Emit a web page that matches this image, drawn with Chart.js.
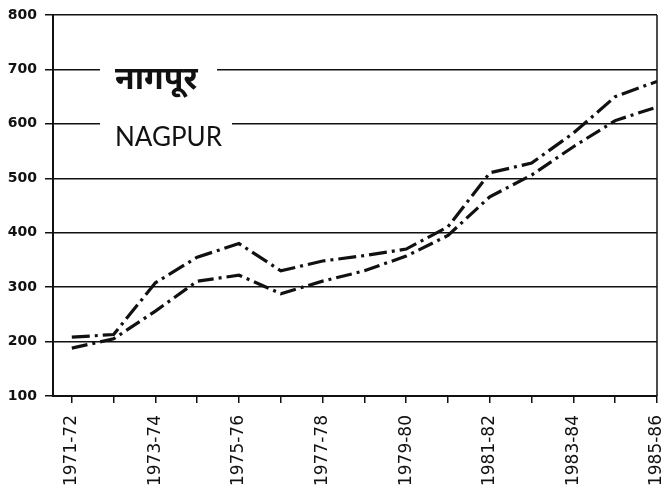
<!DOCTYPE html>
<html>
<head>
<meta charset="utf-8">
<script src="https://cdn.jsdelivr.net/npm/chart.js@4/dist/chart.umd.min.js"></script>
<style>
  html, body { margin: 0; padding: 0; background: #fff; }
  #wrap { width: 662px; height: 492px; }
</style>
</head>
<body>
<div id="wrap"><canvas id="nagpurChart" width="662" height="492"></canvas></div>
<script>
const years = ["1971-72","1972-73","1973-74","1974-75","1975-76","1976-77","1977-78","1978-79",
  "1979-80","1980-81","1981-82","1982-83","1983-84","1984-85","1985-86"];
const upperSeries = [208, 213, 308, 355, 380, 330, 348, 358, 370, 411, 510, 528, 583, 650, 678];
const lowerSeries = [188, 205, 256, 311, 322, 288, 311, 330, 357, 395, 466, 506, 558, 606, 631];
const yTicks = [100, 200, 300, 400, 500, 600, 700, 800];
const titleHindi = "नागपूर";
const titleEnglish = "NAGPUR";

const toPoints = arr => arr.map((v, i) => ({x: i, y: v}));

// white patches behind the place name, then the text itself
const labelPlugin = {
  id: "placeLabel",
  beforeDatasetsDraw(chart) {
    const {ctx, scales: {y}, chartArea} = chart;
    const left = chartArea.left + 62;
    ctx.save();
    ctx.fillStyle = "#fff";
    ctx.fillRect(chartArea.left + 47, y.getPixelForValue(700) - 4, 117, 8);
    ctx.fillRect(chartArea.left + 47, y.getPixelForValue(600) - 4, 132, 8);
    ctx.fillStyle = "#111";
    ctx.textBaseline = "alphabetic";
    ctx.font = "bold 32px 'Noto Sans', sans-serif";
    ctx.fillText(titleHindi, left, y.getPixelForValue(700) + 20);
    ctx.font = "26px Lato, sans-serif";
    ctx.fillText(titleEnglish, left, y.getPixelForValue(600) + 22);
    // right frame
    ctx.strokeStyle = "#111";
    ctx.lineWidth = 1.5;
    ctx.beginPath();
    ctx.moveTo(chartArea.right, chartArea.top);
    ctx.lineTo(chartArea.right, chartArea.bottom);
    ctx.stroke();
    ctx.restore();
  }
};

new Chart(document.getElementById("nagpurChart"), {
  type: "line",
  data: {
    datasets: [{
      data: toPoints(upperSeries),
      borderColor: "#111",
      borderWidth: 3.2,
      borderDash: [18, 5, 3, 5],
      pointRadius: 0,
      tension: 0,
      fill: false
    }, {
      data: toPoints(lowerSeries),
      borderColor: "#111",
      borderWidth: 3.2,
      borderDash: [16, 5, 3, 5],
      pointRadius: 0,
      tension: 0,
      fill: false
    }]
  },
  options: {
    responsive: false,
    animation: false,
    layout: { padding: { top: 15, right: 5, left: 0, bottom: 0 } },
    plugins: { legend: { display: false }, tooltip: { enabled: false } },
    scales: {
      x: {
        type: "linear",
        min: -0.45,
        max: years.length - 1,
        afterBuildTicks: s => { s.ticks = years.map((_, i) => ({value: i})); },
        afterFit: s => { s.height = 96; s.paddingLeft = 0; s.paddingRight = 0; },
        grid: { drawOnChartArea: false, color: "#111", tickLength: 7, lineWidth: 1.5 },
        border: { color: "#111", width: 2 },
        ticks: {
          autoSkip: false,
          minRotation: 90,
          maxRotation: 90,
          padding: 12,
          color: "#111",
          font: { family: "'DejaVu Sans'", size: 17 },
          callback: v => (v % 2 === 0 ? years[v] : "")
        }
      },
      y: {
        min: 100,
        max: 800,
        afterBuildTicks: s => { s.ticks = yTicks.map(v => ({value: v})); },
        afterFit: s => { s.width = 53; s.paddingTop = 0; s.paddingBottom = 0; },
        grid: { color: "#111", lineWidth: 1.5, tickLength: 8 },
        border: { color: "#111", width: 2 },
        ticks: {
          padding: 8,
          color: "#111",
          font: { family: "'DejaVu Sans'", size: 14, weight: "bold" }
        }
      }
    }
  },
  plugins: [labelPlugin]
});
</script>
</body>
</html>
